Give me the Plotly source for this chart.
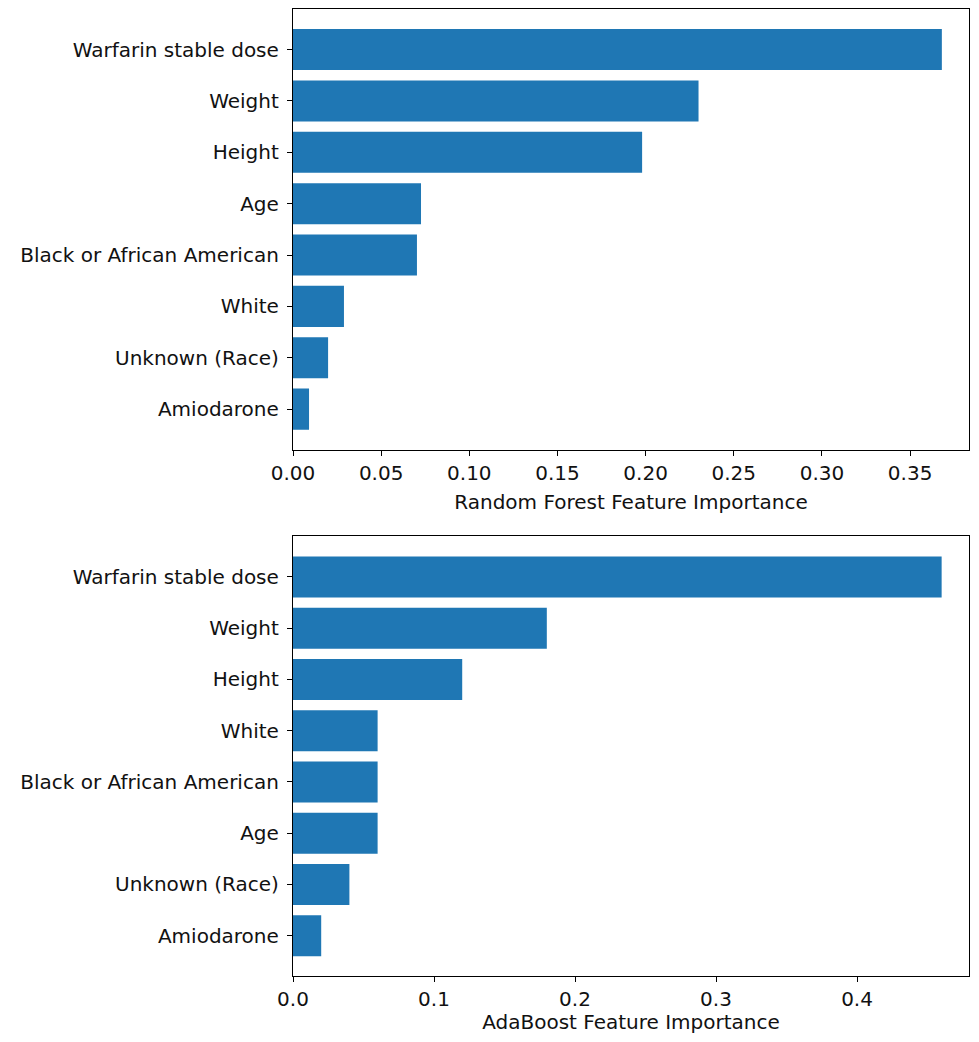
import plotly.graph_objects as go

rf_features = ["Warfarin stable dose", "Weight", "Height", "Age",
               "Black or African American", "White", "Unknown (Race)", "Amiodarone"]
rf_importance = [0.368, 0.230, 0.198, 0.0726, 0.0703, 0.0289, 0.0199, 0.0091]

ada_features = ["Warfarin stable dose", "Weight", "Height", "White",
                "Black or African American", "Age", "Unknown (Race)", "Amiodarone"]
ada_importance = [0.46, 0.18, 0.12, 0.06, 0.06, 0.06, 0.04, 0.02]

rf_ticks = [0.00, 0.05, 0.10, 0.15, 0.20, 0.25, 0.30, 0.35]
rf_ticktext = ["0.00", "0.05", "0.10", "0.15", "0.20", "0.25", "0.30", "0.35"]
ada_ticks = [0.0, 0.1, 0.2, 0.3, 0.4]
ada_ticktext = ["0.0", "0.1", "0.2", "0.3", "0.4"]

BAR = "#1f77b4"
FONT = "DejaVu Sans"
FS = 20

fig = go.Figure()
fig.add_trace(go.Bar(x=rf_importance, y=rf_features, orientation="h",
                     marker=dict(color=BAR, line=dict(width=0)), width=0.8,
                     xaxis="x", yaxis="y"))
fig.add_trace(go.Bar(x=ada_importance, y=ada_features, orientation="h",
                     marker=dict(color=BAR, line=dict(width=0)), width=0.8,
                     xaxis="x2", yaxis="y2"))

def xax(rng, tv, tt, title, anchor, standoff):
    return dict(range=rng, tickvals=tv, ticktext=tt, anchor=anchor,
                showline=True, mirror=True, linecolor="black", linewidth=1.3,
                ticks="outside", ticklen=5, tickwidth=1.2, tickcolor="black",
                showgrid=False, zeroline=False,
                tickfont=dict(family=FONT, size=FS, color="#111111"),
                title=dict(text=title, standoff=standoff,
                           font=dict(family=FONT, size=FS, color="#111111")))

def yax(cats, domain, anchor):
    n = len(cats)
    return dict(domain=domain, type="category", categoryorder="array",
                categoryarray=cats, range=[n - 1 + 0.79, -0.79], anchor=anchor,
                showline=True, mirror=True, linecolor="black", linewidth=1.3,
                ticks="outside", ticklen=5, tickwidth=1.2, tickcolor="black",
                showgrid=False, zeroline=False, ticklabelstandoff=4,
                tickfont=dict(family=FONT, size=FS, color="#111111"))

H = 1026.0
fig.update_layout(
    width=963, height=1026,
    margin=dict(l=285, r=2, t=1, b=0),
    paper_bgcolor="white", plot_bgcolor="white",
    showlegend=False, bargap=0.2,
    xaxis=xax([0, 0.3834], rf_ticks, rf_ticktext, "Random Forest Feature Importance", "y", 11),
    yaxis=yax(rf_features, [1 - 442 / H, 1.0], "x"),
    xaxis2=xax([0, 0.4794], ada_ticks, ada_ticktext, "AdaBoost Feature Importance", "y2", 9),
    yaxis2=yax(ada_features, [1 - 970 / H, 1 - 529 / H], "x2"),
)

fig.write_html("out.html")
